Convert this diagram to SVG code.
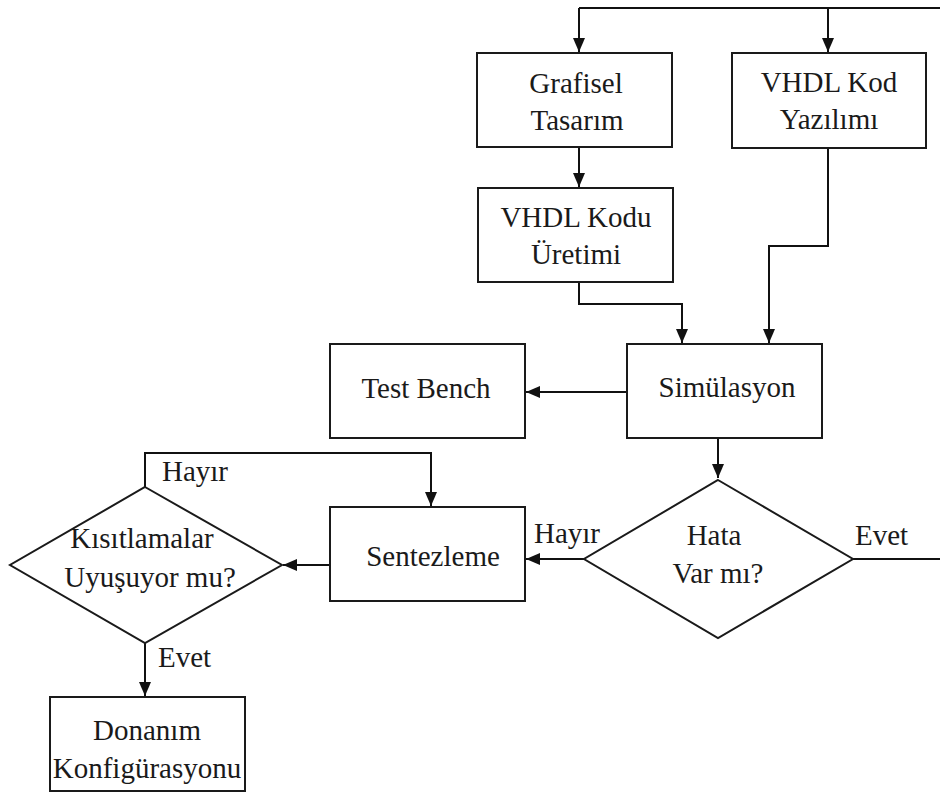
<svg xmlns="http://www.w3.org/2000/svg" width="940" height="795" viewBox="0 0 940 795">
  <style>
    .box { fill: #ffffff; stroke: #1a1a1a; stroke-width: 2; }
    .wire { fill: none; stroke: #111111; stroke-width: 2; }
    .arrow { marker-end: url(#head); }
    text { font-family: 'Liberation Serif', 'Times New Roman', Tinos, 'Noto Serif', 'DejaVu Serif', FreeSerif, Times, serif; font-size: 29px; fill: #1a1a1a; }
    .c { text-anchor: middle; }
  </style>
  <defs>
    <marker id="head" markerUnits="userSpaceOnUse" markerWidth="14" markerHeight="12" viewBox="0 0 14 12" refX="14" refY="6" orient="auto">
      <path d="M0,0 L14,6 L0,12 Z" fill="#111111"/>
    </marker>
  </defs>
  <rect width="940" height="795" fill="#ffffff"/>

  <!-- connectors -->
  <g id="connectors">
    <path class="wire" d="M579,8 H940"/>
    <path class="wire arrow" d="M579,8 V52"/>
    <path class="wire arrow" d="M828,8 V52"/>
    <path class="wire arrow" d="M579,147 V187"/>
    <path class="wire arrow" d="M579,282 V304 H682 V343"/>
    <path class="wire arrow" d="M828,148 V246 H769 V343"/>
    <path class="wire arrow" d="M627,392 H526"/>
    <path class="wire arrow" d="M718,438 V478"/>
    <path class="wire arrow" d="M584,559 H526"/>
    <path class="wire" d="M853,559 H940"/>
    <path class="wire arrow" d="M330,565 H283"/>
    <path class="wire arrow" d="M145,487 V453 H431 V506"/>
    <path class="wire arrow" d="M145,643 V696"/>
    <text x="534" y="543">Hayır</text>
    <text x="855" y="545">Evet</text>
    <text x="162" y="481">Hayır</text>
    <text x="158" y="667">Evet</text>
  </g>

  <!-- nodes -->
  <g id="grafisel-tasarim">
    <rect class="box" x="477" y="53" width="195" height="94"/>
    <text class="c" x="576" y="93">Grafisel</text>
    <text class="c" x="577" y="130">Tasarım</text>
  </g>
  <g id="vhdl-kod-yazilimi">
    <rect class="box" x="732" y="53" width="194" height="95"/>
    <text class="c" x="829" y="92">VHDL Kod</text>
    <text class="c" x="829" y="129">Yazılımı</text>
  </g>
  <g id="vhdl-kodu-uretimi">
    <rect class="box" x="478" y="188" width="195" height="94"/>
    <text class="c" x="576" y="227">VHDL Kodu</text>
    <text class="c" x="576" y="264">Üretimi</text>
  </g>
  <g id="simulasyon">
    <rect class="box" x="627" y="344" width="195" height="94"/>
    <text class="c" x="727" y="397">Simülasyon</text>
  </g>
  <g id="test-bench">
    <rect class="box" x="330" y="344" width="195" height="94"/>
    <text class="c" x="426" y="398">Test Bench</text>
  </g>
  <g id="hata-var-mi">
    <polygon class="box" points="718,480 853,559 718,638 584,559"/>
    <text class="c" x="714" y="545">Hata</text>
    <text class="c" x="718" y="583">Var mı?</text>
  </g>
  <g id="sentezleme">
    <rect class="box" x="330" y="507" width="195" height="94"/>
    <text class="c" x="433" y="566">Sentezleme</text>
  </g>
  <g id="kisitlamalar">
    <polygon class="box" points="145,487 282,565 145,643 10,565"/>
    <text class="c" x="142" y="548">Kısıtlamalar</text>
    <text class="c" x="150" y="587">Uyuşuyor mu?</text>
  </g>
  <g id="donanim-konfigurasyonu">
    <rect class="box" x="50" y="697" width="195" height="94"/>
    <text class="c" x="147" y="740">Donanım</text>
    <text class="c" x="147" y="778">Konfigürasyonu</text>
  </g>
</svg>
